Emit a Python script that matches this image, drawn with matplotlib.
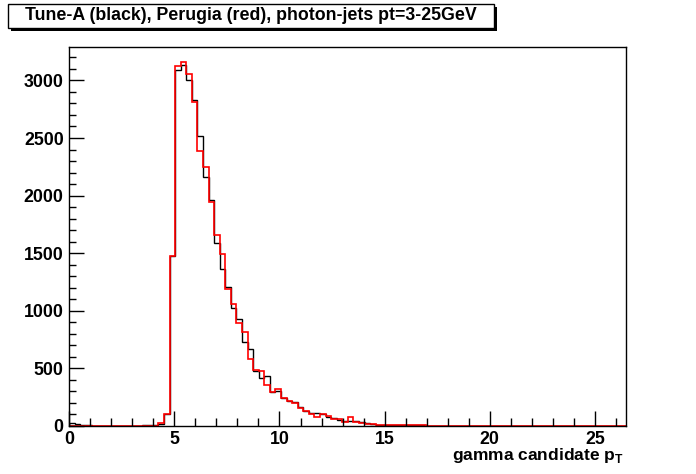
import numpy as np
import matplotlib
matplotlib.use("Agg")
import matplotlib.pyplot as plt
from matplotlib.patches import Rectangle
from matplotlib.ticker import MultipleLocator

# 100 bins from 0 to 26.5
x_min, x_max, n_bins = 0.0, 26.5, 100

tune_a = [29, 15, 5, 5, 0, 0, 0, 0, 0, 0,
          0, 0, 0, 7, 7, 8, 20, 100, 1480, 3090,
          3135, 3005, 2828, 2515, 2165, 1960, 1590, 1367, 1205, 1025,
          930, 733, 669, 480, 420, 430, 298, 303, 243, 220,
          209, 167, 133, 115, 115, 101, 76, 70, 52, 46,
          46, 40, 38, 23, 15, 10, 10, 10, 10, 10,
          5, 5, 5, 5, 3, 3, 3, 3, 0, 0] + [0] * 30

perugia = [0, 0, 0, 0, 0, 0, 0, 0, 0, 0,
           0, 0, 0, 0, 0, 2, 25, 107, 1480, 3128,
           3157, 3054, 2813, 2388, 2246, 1942, 1656, 1490, 1189, 1057,
           892, 814, 579, 487, 478, 356, 298, 318, 239, 214,
           202, 154, 133, 101, 76, 101, 90, 61, 61, 35,
           76, 38, 25, 20, 15, 7, 7, 7, 7, 7,
           7, 7, 7, 7, 3, 3, 3, 3, 0, 0] + [0] * 30

title = "Tune-A (black), Perugia (red), photon-jets pt=3-25GeV"
xlabel = "gamma candidate p$_\\mathregular{T}$"

plt.rcParams['font.family'] = ['Liberation Sans', 'DejaVu Sans']
plt.rcParams['font.weight'] = 'bold'
plt.rcParams['mathtext.default'] = 'bf'

fs = 12.8
fig = plt.figure(figsize=(6.96, 4.74), dpi=100)
W, H = 696, 474
ax = fig.add_axes([69.3 / W, (H - 426) / H, (626.3 - 69.3) / W, (426 - 47) / H])

edges = np.linspace(x_min, x_max, n_bins + 1)
ax.stairs(tune_a, edges, color='black', lw=1.0, baseline=0)
ax.stairs(perugia, edges, color='red', lw=1.2, baseline=0)

ax.set_xlim(x_min, x_max)
ax.set_ylim(0, 3290)

ax.xaxis.set_major_locator(MultipleLocator(5))
ax.xaxis.set_minor_locator(MultipleLocator(1))
ax.yaxis.set_major_locator(MultipleLocator(500))
ax.yaxis.set_minor_locator(MultipleLocator(100))
ax.tick_params(which='both', direction='in', top=False, right=False,
               labelsize=fs, width=1.0, color='black')
ax.tick_params(axis='x', which='major', length=11, pad=3.5)
ax.tick_params(axis='x', which='minor', length=5.5)
ax.tick_params(axis='y', which='major', length=11, pad=4)
ax.tick_params(axis='y', which='minor', length=5)
for lab in ax.get_xticklabels() + ax.get_yticklabels():
    lab.set_fontweight('bold')
for s in ax.spines.values():
    s.set_linewidth(1.0)

fig.text(624 / W, 1 - 460 / H, xlabel, ha='right', va='baseline',
         fontsize=12.5, fontweight='bold')

# title box with shadow
bx0, by0, bx1, by1 = 8, 4, 494, 28
sh = 3
fig.add_artist(Rectangle(((bx0 + sh) / W, 1 - (by1 + sh) / H), (bx1 - bx0) / W,
                         (by1 - by0) / H, transform=fig.transFigure,
                         facecolor='black', edgecolor='black', lw=0))
fig.add_artist(Rectangle((bx0 / W, 1 - by1 / H), (bx1 - bx0) / W, (by1 - by0) / H,
                         transform=fig.transFigure, facecolor='white',
                         edgecolor='black', lw=1.0))
fig.text((bx0 + bx1) / 2 / W, 1 - (by0 + by1) / 2 / H, title, ha='center',
         va='center', fontsize=fs, fontweight='bold')

fig.savefig("out.png", dpi=100)
